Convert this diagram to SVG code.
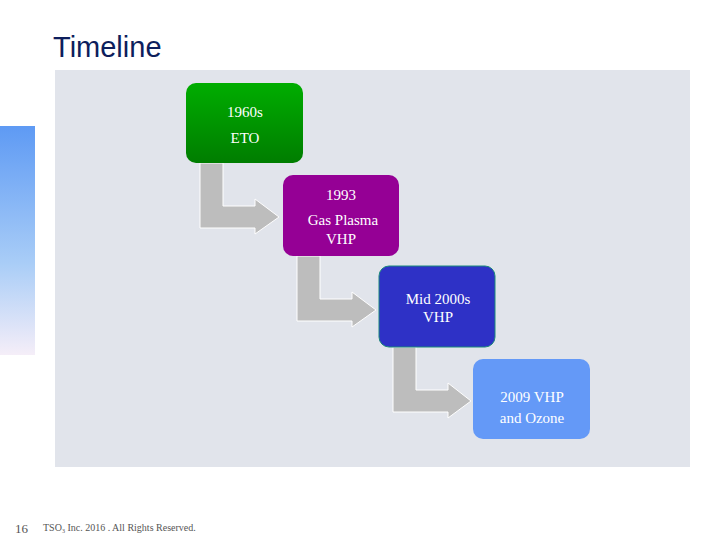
<svg xmlns="http://www.w3.org/2000/svg" width="720" height="540" viewBox="0 0 720 540">
<defs>
<linearGradient id="side" x1="0" y1="0" x2="0" y2="1"><stop offset="0" stop-color="#5e9af4"/><stop offset="0.6" stop-color="#a9cdf7"/><stop offset="1" stop-color="#f5eef8"/></linearGradient>
<linearGradient id="g1" x1="0" y1="0" x2="0" y2="1"><stop offset="0" stop-color="#00ad00"/><stop offset="1" stop-color="#007d00"/></linearGradient>
<style>
.t{font-family:"Liberation Serif",serif;fill:#fff;text-anchor:middle;font-size:15px}
.arr{fill:#bdbdbd;stroke:#fff;stroke-width:1}
</style>
</defs>
<rect x="0" y="0" width="720" height="540" fill="#fff"/>
<rect x="0" y="126" width="35" height="229" fill="url(#side)"/>
<rect x="55" y="70" width="635" height="397" fill="#e1e4eb"/>
<text x="53" y="57" font-family="Liberation Sans,Arial,sans-serif" font-size="29" fill="#0d1e5c">Timeline</text>
<g id="connectors">
<path class="arr" d="M200 163H223V206H255V199L279 217L255 234V228H200Z"/>
<path class="arr" d="M297 256H320V299H352V292L376 310L352 327V321H297Z"/>
<path class="arr" d="M393 347H416V390H448V383L471 401L448 418V412H393Z"/>
</g>
<g id="n1"><rect x="186" y="83" width="117" height="80" rx="10" fill="url(#g1)"/><text class="t" x="245" y="117">1960s</text><text class="t" x="245" y="143">ETO</text></g>
<g id="n2"><rect x="283" y="175" width="116" height="81" rx="10" fill="#950095"/><text class="t" x="341" y="200">1993</text><text class="t" x="343" y="225">Gas Plasma</text><text class="t" x="341" y="244">VHP</text></g>
<g id="n3"><rect x="379" y="266" width="116" height="81" rx="10" fill="#2e31c6" stroke="#1a8a7a" stroke-width="1"/><text class="t" x="438" y="304">Mid 2000s</text><text class="t" x="438" y="322">VHP</text></g>
<g id="n4"><rect x="473" y="359" width="117" height="80" rx="10" fill="#6499f7"/><text class="t" x="532" y="402" font-size="16">2009 VHP</text><text class="t" x="532" y="423" font-size="16">and Ozone</text></g>
<text x="15" y="533" font-family="Liberation Serif,serif" font-size="13" fill="#555">16</text>
<text x="43" y="531" font-family="Liberation Serif,serif" font-size="10" fill="#555">TSO<tspan font-size="6" dy="2">3</tspan><tspan dy="-2"> Inc. 2016 .  All Rights Reserved.</tspan></text>
</svg>
